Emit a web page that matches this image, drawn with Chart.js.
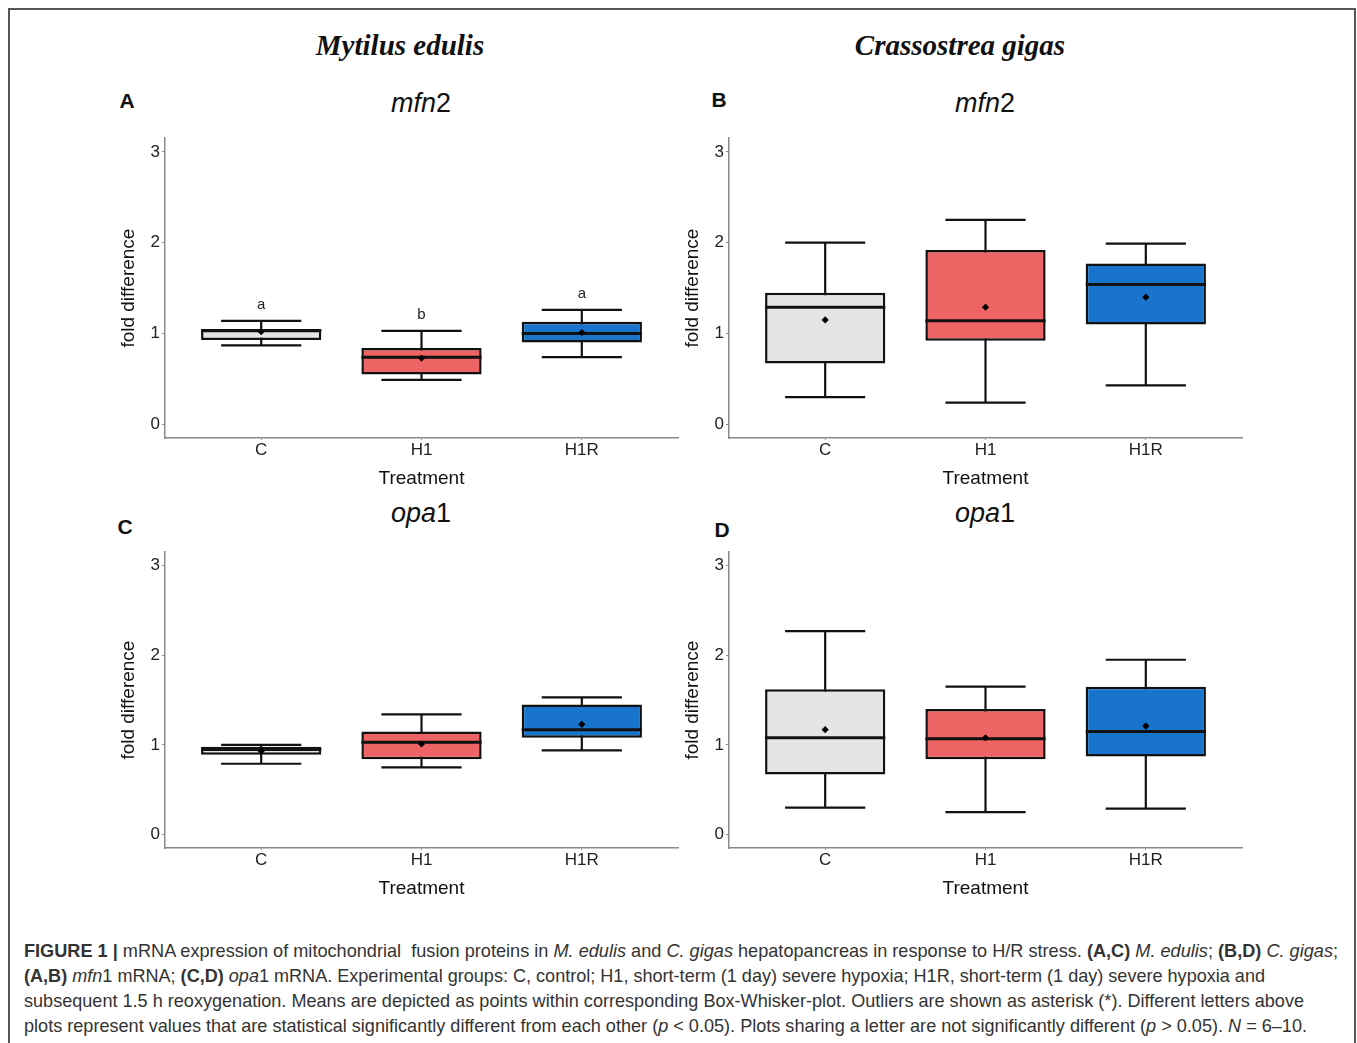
<!DOCTYPE html>
<html>
<head>
<meta charset="utf-8">
<script src="https://cdn.jsdelivr.net/npm/chart.js@4.4.0/dist/chart.umd.min.js"></script>
<style>
  html, body { margin: 0; padding: 0; background: #fff; }
  body { width: 1357px; height: 1043px; position: relative; overflow: hidden; font-family: "Liberation Sans", Arial, sans-serif; color: #111; }
  .frame { position: absolute; left: 8px; top: 8px; width: 1348px; height: 1100px; border: 2px solid #555; box-sizing: border-box; }
  .species { position: absolute; font-family: "Liberation Serif", "Times New Roman", serif; font-weight: bold; font-style: italic; font-size: 29px; transform: translate(-50%, -50%); white-space: nowrap; }
  .tag { position: absolute; font-weight: bold; font-size: 21px; transform: translate(-50%, -50%); }
  .gene { position: absolute; font-size: 27px; transform: translate(-50%, -50%); white-space: nowrap; }
  .panel { position: absolute; width: 600px; height: 374px; }
  .cap { position: absolute; left: 24px; font-family: "Liberation Sans Narrow", "Liberation Sans", Arial, sans-serif; font-size: 19px; color: #333; white-space: nowrap; transform-origin: left center; line-height: 22px; }
</style>
</head>
<body>
<div class="frame"></div>

<div class="species" style="left:400px; top:45px;">Mytilus edulis</div>
<div class="species" style="left:960px; top:45px;">Crassostrea gigas</div>

<div class="tag" style="left:127px; top:101px;">A</div>
<div class="tag" style="left:719px; top:100px;">B</div>
<div class="tag" style="left:125px; top:527px;">C</div>
<div class="tag" style="left:722px; top:530px;">D</div>

<div class="gene" style="left:421px; top:103px;"><i>mfn</i>2</div>
<div class="gene" style="left:985px; top:103px;"><i>mfn</i>2</div>
<div class="gene" style="left:421px; top:513px;"><i>opa</i>1</div>
<div class="gene" style="left:985px; top:513px;"><i>opa</i>1</div>

<div class="panel" style="left:100px; top:126px;"><canvas id="chartA"></canvas></div>
<div class="panel" style="left:664px; top:126px;"><canvas id="chartB"></canvas></div>
<div class="panel" style="left:100px; top:540px; height:370px;"><canvas id="chartC"></canvas></div>
<div class="panel" style="left:664px; top:540px; height:370px;"><canvas id="chartD"></canvas></div>

<div class="cap" data-w="1314" style="top:940px;"><b>FIGURE 1 |</b> mRNA expression of mitochondrial&nbsp; fusion proteins in <i>M. edulis</i> and <i>C. gigas</i> hepatopancreas in response to H/R stress. <b>(A,C)</b> <i>M. edulis</i>; <b>(B,D)</b> <i>C. gigas</i>;</div>
<div class="cap" data-w="1241" style="top:965px;"><b>(A,B)</b> <i>mfn</i>1 mRNA; <b>(C,D)</b> <i>opa</i>1 mRNA. Experimental groups: C, control; H1, short-term (1 day) severe hypoxia; H1R, short-term (1 day) severe hypoxia and</div>
<div class="cap" data-w="1280" style="top:990px;">subsequent 1.5 h reoxygenation. Means are depicted as points within corresponding Box-Whisker-plot. Outliers are shown as asterisk (*). Different letters above</div>
<div class="cap" data-w="1283" style="top:1015px;">plots represent values that are statistical significantly different from each other (<i>p</i> &lt; 0.05). Plots sharing a letter are not significantly different (<i>p</i> &gt; 0.05). <i>N</i> = 6–10.</div>

<script>
// treatment groups and box fills
const groups = ["C", "H1", "H1R"];
const boxColors = ["#E5E5E5", "#EE6363", "#1874CD"];
const yTicks = [0, 1, 2, 3];

// A: M. edulis mfn2
const aMin = [0.87, 0.49, 0.74];
const aQ1 = [0.93, 0.55, 0.90];
const aMed = [1.03, 0.74, 1.00];
const aQ3 = [1.05, 0.84, 1.13];
const aMax = [1.14, 1.03, 1.26];
const aMean = [1.02, 0.73, 1.01];
const aLetters = ["a", "b", "a"];

// B: C. gigas mfn2
const bMin = [0.30, 0.24, 0.43];
const bQ1 = [0.67, 0.92, 1.10];
const bMed = [1.29, 1.14, 1.54];
const bQ3 = [1.45, 1.92, 1.77];
const bMax = [2.00, 2.25, 1.99];
const bMean = [1.15, 1.29, 1.40];

// C: M. edulis opa1
const cMin = [0.79, 0.75, 0.94];
const cQ1 = [0.89, 0.84, 1.08];
const cMed = [0.95, 1.03, 1.17];
const cQ3 = [0.98, 1.15, 1.45];
const cMax = [1.00, 1.34, 1.53];
const cMean = [0.93, 1.01, 1.23];

// D: C. gigas opa1
const dMin = [0.30, 0.25, 0.29];
const dQ1 = [0.67, 0.84, 0.87];
const dMed = [1.08, 1.07, 1.15];
const dQ3 = [1.62, 1.40, 1.65];
const dMax = [2.27, 1.65, 1.95];
const dMean = [1.17, 1.08, 1.21];

// whiskers, medians and letters drawn with the chart's scales
const boxExtras = {
  id: "boxExtras",
  beforeDatasetsDraw(chart, args, opts) {
    const { ctx, scales: { x, y } } = chart;
    const half = x.getPixelForValue(1.25) - x.getPixelForValue(1);
    ctx.save();
    ctx.strokeStyle = "#111";
    ctx.lineWidth = 2.2;
    opts.max.forEach((mx, i) => {
      const px = x.getPixelForValue(i + 1);
      const top = y.getPixelForValue(mx);
      const bot = y.getPixelForValue(opts.min[i]);
      ctx.beginPath();
      ctx.moveTo(px, top); ctx.lineTo(px, bot);
      ctx.moveTo(px - half, top); ctx.lineTo(px + half, top);
      ctx.moveTo(px - half, bot); ctx.lineTo(px + half, bot);
      ctx.stroke();
    });
    ctx.restore();
  },
  afterDatasetDraw(chart, args, opts) {
    if (chart.data.datasets[args.index].type !== "bar") return;
    const { ctx, scales: { y } } = chart;
    ctx.save();
    ctx.strokeStyle = "#111";
    ctx.lineWidth = 3;
    args.meta.data.forEach((bar, i) => {
      const py = y.getPixelForValue(opts.med[i]);
      ctx.beginPath();
      ctx.moveTo(bar.x - bar.width / 2, py);
      ctx.lineTo(bar.x + bar.width / 2, py);
      ctx.stroke();
    });
    ctx.restore();
  },
  afterDatasetsDraw(chart, args, opts) {
    if (!opts.letters) return;
    const { ctx, scales: { x, y } } = chart;
    ctx.save();
    ctx.fillStyle = "#222";
    ctx.font = "15px 'Liberation Sans', Arial, sans-serif";
    ctx.textAlign = "center";
    ctx.textBaseline = "middle";
    opts.letters.forEach((l, i) => {
      ctx.fillText(l, x.getPixelForValue(i + 1), y.getPixelForValue(opts.max[i] + 0.18));
    });
    ctx.restore();
  }
};

function boxChart(id, mins, q1, med, q3, maxs, means, letters) {
  const ctx = document.getElementById(id).getContext("2d");
  return new Chart(ctx, {
    type: "bar",
    data: {
      datasets: [
        {
          type: "scatter",
          order: 0,
          data: means.map((m, i) => ({ x: i + 1, y: m })),
          pointStyle: "rectRot",
          pointRadius: 3.6,
          backgroundColor: "#000",
          borderWidth: 0,
        },
        {
          type: "bar",
          order: 1,
          data: q1.map((v, i) => ({ x: i + 1, y: [v, q3[i]] })),
          backgroundColor: boxColors,
          borderColor: "#111",
          borderWidth: 2.5,
          borderSkipped: false,
          categoryPercentage: 1,
          barPercentage: 0.75,
        },
      ],
    },
    options: {
      responsive: true,
      maintainAspectRatio: false,
      animation: false,
      layout: { padding: { left: 0, top: 12, right: 22, bottom: 0 } },
      scales: {
        x: {
          type: "linear",
          min: 0.4,
          max: 3.6,
          offset: false,
          afterBuildTicks: (axis) => { axis.ticks = groups.map((g, i) => ({ value: i + 1 })); },
          afterFit: (axis) => { axis.height = 62; },
          ticks: {
            callback: (v) => groups[v - 1],
            color: "#222",
            font: { family: "'Liberation Sans', Arial, sans-serif", size: 17 },
            padding: 0,
            maxRotation: 0,
          },
          grid: { display: true, offset: false, drawOnChartArea: false, drawTicks: true, tickLength: 2, color: "#8a8a8a" },
          border: { display: true, color: "#8a8a8a", width: 1.5 },
          title: {
            display: true,
            text: "Treatment",
            color: "#111",
            font: { family: "'Liberation Sans', Arial, sans-serif", size: 19 },
            padding: { top: 0, bottom: 10 },
          },
        },
        y: {
          min: -0.15,
          max: 3.15,
          afterBuildTicks: (axis) => { axis.ticks = yTicks.map((v) => ({ value: v })); },
          afterFit: (axis) => { axis.width = 65; },
          ticks: {
            color: "#222",
            font: { family: "'Liberation Sans', Arial, sans-serif", size: 17 },
            padding: 2,
          },
          grid: { display: true, drawOnChartArea: false, drawTicks: true, tickLength: 3, color: "#8a8a8a" },
          border: { display: true, color: "#8a8a8a", width: 1.5 },
          title: {
            display: true,
            text: "fold difference",
            color: "#111",
            font: { family: "'Liberation Sans', Arial, sans-serif", size: 19 },
            padding: { top: 17, bottom: 0 },
          },
        },
      },
      plugins: {
        legend: { display: false },
        tooltip: { enabled: false },
        boxExtras: { min: mins, med: med, max: maxs, letters: letters },
      },
    },
    plugins: [boxExtras],
  });
}

boxChart("chartA", aMin, aQ1, aMed, aQ3, aMax, aMean, aLetters);
boxChart("chartB", bMin, bQ1, bMed, bQ3, bMax, bMean, null);
boxChart("chartC", cMin, cQ1, cMed, cQ3, cMax, cMean, null);
boxChart("chartD", dMin, dQ1, dMed, dQ3, dMax, dMean, null);

// squeeze caption lines to the widths they have in the figure
document.querySelectorAll(".cap").forEach((el) => {
  const w = el.getBoundingClientRect().width;
  el.style.transform = "scaleX(" + (parseFloat(el.dataset.w) / w) + ")";
});
</script>
</body>
</html>
